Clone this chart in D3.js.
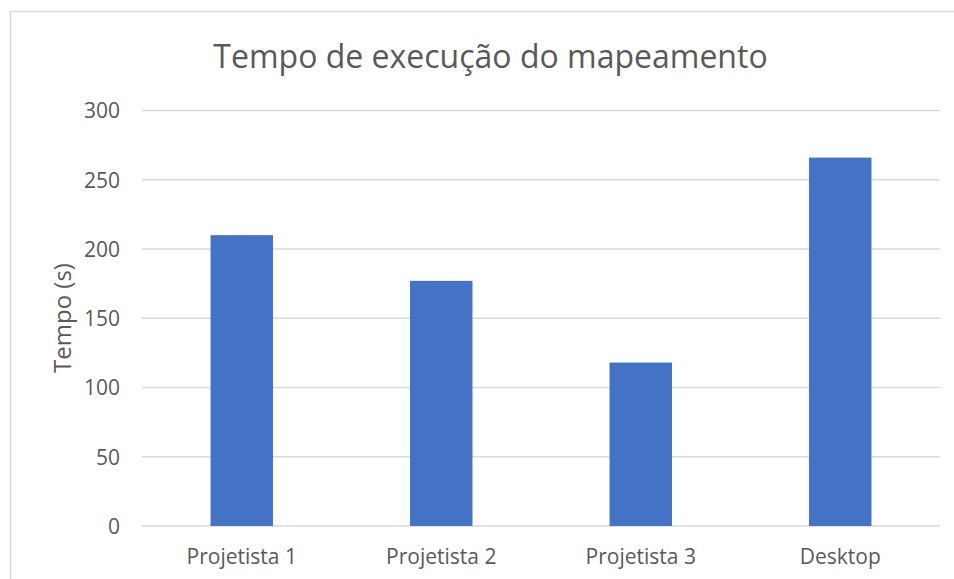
<!DOCTYPE html>
<html><head><meta charset="utf-8">
<script src="https://cdn.jsdelivr.net/npm/d3@7"></script>
<style>html,body{margin:0;padding:0;background:#fff;}svg{display:block;}</style>
</head><body>
<svg id="chart" width="954" height="579"></svg>
<script>
const categories = ["Projetista 1", "Projetista 2", "Projetista 3", "Desktop"];
const values = [210, 177, 118, 266];
const yTicks = [0, 50, 100, 150, 200, 250, 300];
const title = "Tempo de execução do mapeamento";
const yLabel = "Tempo (s)";

const svg = d3.select("#chart");
const font = "'Open Sans', 'Noto Sans', sans-serif";
const textColor = "#595959";

// chart area border
svg.append("rect").attr("x", 10.5).attr("y", 11.5).attr("width", 1000).attr("height", 1000)
  .attr("fill", "none").attr("stroke", "#d9d9d9").attr("stroke-width", 1.5);

const plot = {left: 142, right: 940, top: 110.5, bottom: 526};
const x = d3.scaleBand().domain(categories).range([plot.left, plot.right]).paddingInner(0.687).paddingOuter(0.3435);
const y = d3.scaleLinear().domain([0, 300]).range([plot.bottom, plot.top]);

// gridlines
svg.append("g").selectAll("line").data(yTicks).join("line")
  .attr("x1", plot.left).attr("x2", plot.right)
  .attr("y1", d => y(d)).attr("y2", d => y(d))
  .attr("stroke", "#d9d9d9").attr("stroke-width", 1.5);

// y axis labels
const yAxis = d3.axisLeft(y).tickValues(yTicks).tickSize(0).tickPadding(0);
const gy = svg.append("g").attr("transform", `translate(120,0)`).call(yAxis);
gy.select(".domain").remove();
gy.selectAll("text").attr("font-family", font).attr("font-size", 21).attr("fill", textColor).attr("dy", "0.35em");

// bars
svg.append("g").selectAll("rect").data(values).join("rect")
  .attr("x", (d, i) => x(categories[i]))
  .attr("width", x.bandwidth())
  .attr("y", d => y(d))
  .attr("height", d => y(0) - y(d))
  .attr("fill", "#4472c4");

// x axis labels
const xAxis = d3.axisBottom(x).tickSize(0).tickPadding(0);
const gx = svg.append("g").attr("transform", `translate(0,${plot.bottom + 31})`).call(xAxis);
gx.select(".domain").remove();
gx.selectAll("text").attr("font-family", font).attr("font-size", 21).attr("fill", textColor).attr("dy", "0.35em");

// title
svg.append("text").attr("x", 490.5).attr("y", 55).attr("text-anchor", "middle").attr("dominant-baseline", "central")
  .attr("font-family", font).attr("font-size", 32).attr("fill", textColor).text(title);

// y label
svg.append("text").attr("transform", "translate(61,318) rotate(-90)").attr("text-anchor", "middle")
  .attr("dominant-baseline", "central")
  .attr("font-family", font).attr("font-size", 24).attr("fill", textColor).text(yLabel);
</script>
</body></html>
